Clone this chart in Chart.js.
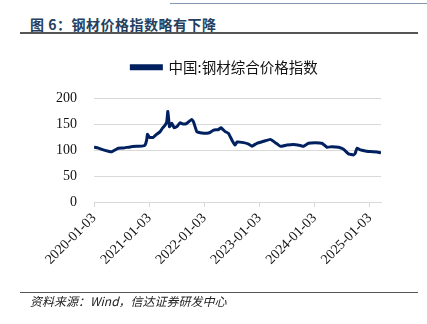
<!DOCTYPE html>
<html>
<head>
<meta charset="utf-8">
<script src="https://cdn.jsdelivr.net/npm/chart.js@4"></script>
<style>
    html, body { margin: 0; padding: 0; background: #fff; }
    #wrap { position: relative; width: 427px; height: 324px; overflow: hidden; }
    #chart-steel { position: absolute; left: 0; top: 0; }
    .top-rule { position: absolute; left: 170px; top: 3px; width: 257px; height: 1px; background: #8497b0; }
    .title { position: absolute; left: 30px; top: 14px; font: bold 14px "Noto Sans CJK SC", sans-serif; color: #243f60; letter-spacing: 0.5px; }
    .rule { position: absolute; left: 20px; width: 398px; height: 2px; background: #555; }
    .source { position: absolute; left: 30px; font: italic 12px "Noto Sans CJK SC", sans-serif; color: #222; }
</style>
</head>
<body>
<div id="wrap">
    <div class="top-rule"></div>
    <div class="title">图 6：钢材价格指数略有下降</div>
    <div class="rule" style="top: 32px;"></div>
    <canvas id="chart-steel" width="427" height="324"></canvas>
    <div class="rule" style="top: 292px; height: 1px;"></div>
    <div class="source" style="top: 292px;">资料来源：Wind，信达证券研发中心</div>
</div>
<script>
// China steel composite price index, sampled off the weekly series
const dates = [
    '2020-01-03', '2020-02-01', '2020-03-05', '2020-04-07', '2020-04-29', '2020-05-21',
    '2020-06-12', '2020-07-15', '2020-08-29', '2020-10-12', '2020-11-14', '2020-12-06',
    '2020-12-17', '2020-12-22', '2021-01-04', '2021-01-30', '2021-02-22', '2021-03-16',
    '2021-04-03', '2021-04-18', '2021-04-29', '2021-05-06', '2021-05-17', '2021-06-01',
    '2021-06-17', '2021-07-05', '2021-07-26', '2021-08-17', '2021-09-09', '2021-10-12',
    '2021-10-23', '2021-11-14', '2021-12-06', '2022-01-20', '2022-02-11', '2022-03-05',
    '2022-04-07', '2022-04-23', '2022-05-21', '2022-06-12', '2022-07-04', '2022-07-26',
    '2022-08-07', '2022-09-19', '2022-10-23', '2022-11-14', '2022-12-17', '2023-01-30',
    '2023-03-16', '2023-04-18', '2023-05-21', '2023-07-04', '2023-08-17', '2023-09-30',
    '2023-10-22', '2023-11-24', '2024-01-07', '2024-02-21', '2024-03-25', '2024-04-27',
    '2024-06-10', '2024-07-13', '2024-08-15', '2024-09-17', '2024-09-28', '2024-10-10',
    '2024-11-01', '2024-12-04', '2025-01-06', '2025-02-19', '2025-03-18',
];
const steelIndex = [
    106, 104, 100.6, 98, 97, 100.5,
    104, 104.5, 106.5, 107.5, 108, 110,
    120, 131, 125, 125, 131, 136,
    143.6, 148.7, 155, 175, 145.5, 152,
    143.6, 145.5, 153, 150.6, 152, 159.6,
    155, 136, 134, 132.7, 134.6, 139,
    140, 143.6, 136, 132.7, 120, 110,
    116, 114.7, 112, 107.7, 113.5, 117.3,
    121, 114.7, 107.7, 110, 111, 109,
    107.7, 113.5, 114.7, 113.5, 105.8, 107,
    105.8, 102, 93, 91, 94, 104,
    100.6, 98.7, 97.4, 96.8, 95,
];
const tickLabels = ['2020-01-03', '2021-01-03', '2022-01-03', '2023-01-03', '2024-01-03', '2025-01-03'];
const yTicks = [0, 50, 100, 150, 200];

const DAY = 86400000;
const origin = Date.parse(dates[0]);
const toDay = d => (Date.parse(d) - origin) / DAY;
const tickDays = tickLabels.map(toDay);

const AXIS_FONT = { family: '"Liberation Serif", "Times New Roman", serif', size: 14 };

// Extra room under the legend, and nudge it right over the plot
const legendSpacing = {
    id: 'legendSpacing',
    beforeInit(chart) {
        const fit = chart.legend.fit;
        chart.legend.fit = function () {
            fit.bind(chart.legend)();
            this.height += 14;
        };
    },
    afterLayout(chart) {
        chart.legend.left += 34;
        chart.legend.right += 34;
    },
};

new Chart(document.getElementById('chart-steel'), {
    type: 'line',
    data: {
        datasets: [{
            label: '中国:钢材综合价格指数',
            data: dates.map((d, i) => ({ x: toDay(d), y: steelIndex[i] })),
            borderColor: '#002060',
            backgroundColor: '#002060',
            borderWidth: 3,
            pointRadius: 0,
            tension: 0.1,
        }],
    },
    options: {
        responsive: false,
        animation: false,
        layout: { padding: { top: 50, right: 46, bottom: 40, left: 0 } },
        plugins: {
            legend: {
                labels: {
                    boxWidth: 30,
                    boxHeight: 3,
                    color: '#111',
                    padding: 10,
                    font: { family: '"Noto Sans CJK SC", sans-serif', size: 14.5 },
                },
            },
            tooltip: { enabled: false },
        },
        scales: {
            x: {
                type: 'linear',
                min: 0,
                max: toDay(dates[dates.length - 1]),
                afterBuildTicks: scale => { scale.ticks = tickDays.map(v => ({ value: v })); },
                afterFit: scale => { scale.height = 82; },
                grid: { drawOnChartArea: false, color: '#d9d9d9', tickLength: 5 },
                border: { color: '#d9d9d9' },
                ticks: {
                    autoSkip: false,
                    minRotation: 45,
                    maxRotation: 45,
                    color: '#111',
                    font: AXIS_FONT,
                    callback: (v, i) => tickLabels[i],
                },
            },
            y: {
                min: 0,
                max: 200,
                afterBuildTicks: scale => { scale.ticks = yTicks.map(v => ({ value: v })); },
                afterFit: scale => { scale.width = 94; },
                grid: { color: '#d9d9d9', drawTicks: false },
                border: { display: false },
                ticks: { color: '#111', padding: 17, font: AXIS_FONT },
            },
        },
    },
    plugins: [legendSpacing],
});
</script>
</body>
</html>
